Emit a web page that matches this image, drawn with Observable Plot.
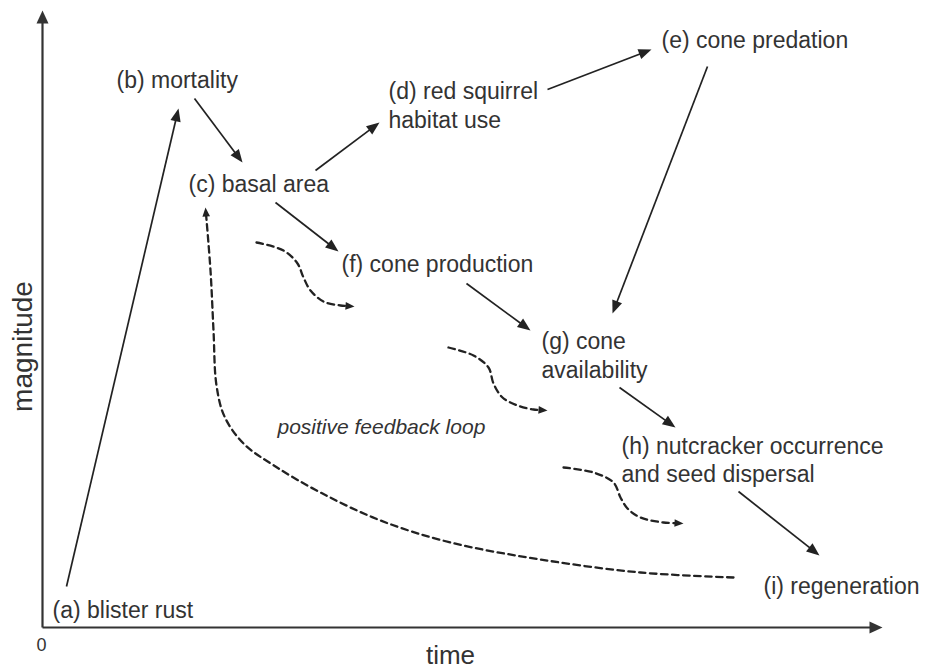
<!DOCTYPE html>
<html><head><meta charset="utf-8">
<script src="https://cdn.jsdelivr.net/npm/d3@7"></script>
<script src="https://cdn.jsdelivr.net/npm/@observablehq/plot@0.6"></script>
<style>body{margin:0;background:#fff}</style>
</head><body><div id="chart"></div>
<script>
// Node labels (time, magnitude in arbitrary units)
const labels = ["(a) blister rust","(b) mortality","(c) basal area","(d) red squirrel\nhabitat use","(e) cone predation","(f) cone production","(g) cone\navailability","(h) nutcracker occurrence\nand seed dispersal","(i) regeneration"];
const labelTime = [10, 74, 146, 346, 619, 299, 499, 579, 721];
const labelMagnitude = [18, 548, 444, 523, 588, 364, 273, 168.5, 42];

// Solid causal arrows: start and tip [time, magnitude]
const arrowFrom = [[24,41],[152,529],[273,457],[505,538],[665,561],[233,425],[424,344],[577,240],[696,136]];
const arrowTo   = [[136,519],[200,465],[337,505],[609,578],[570,314],[296,376],[488,297],[633,200],[777,72]];

// Dashed wavy arrows and feedback loop [time, magnitude]
const wave1 = [[214,385],[241,377],[255,364],[261,350],[268,337],[281,326],[298,322],[312,321]];
const wave2 = [[406,280],[431,272],[446,260],[451,244],[460,230],[475,222],[491,218],[505,217]];
const wave3 = [[521,160],[551,155],[571,145],[578,130],[585,119],[598,110],[621,105],[641,104]];
const feedbackLoop = [[691,50],[598,55],[498,68],[408,85],[338,107],[278,135],[233,161],[201,184],[182,211],[174,242],[171,297],[168,357],[163,420]];

// Axes
const timeMax = 840, magnitudeMax = 617;
const axisFrom = [[0,0],[0,0]];
const axisTo = [[timeMax,0],[0,magnitudeMax]];

const feedbackText = "positive feedback loop";

// ---- derived tables ----
function shorten(from, to, d) {
  const dx = to[0]-from[0], dy = to[1]-from[1], L = Math.hypot(dx, dy);
  return [to[0]-dx/L*d, to[1]-dy/L*d];
}
function rot(from, to) { return Math.atan2(to[0]-from[0], to[1]-from[1]) * 180 / Math.PI; }

function segTable(froms, tos, head) {
  return froms.map((f, i) => {
    const e = shorten(f, tos[i], head - 2);
    return {x1: f[0], y1: f[1], x2: e[0], y2: e[1], tx: tos[i][0], ty: tos[i][1], r: rot(f, tos[i])};
  });
}
const solid = segTable(arrowFrom, arrowTo, 13);
const axes = segTable(axisFrom, axisTo, 13);

const dashed = [wave1, wave2, wave3, feedbackLoop];
const dashedLines = [], dashedHeads = [];
dashed.forEach((pts, k) => {
  const n = pts.length, tip = pts[n-1], prev = pts[n-2];
  const e = shorten(prev, tip, 6);
  pts.slice(0, n-1).concat([e]).forEach(p => dashedLines.push({t: p[0], m: p[1], id: k}));
  dashedHeads.push({tx: tip[0], ty: tip[1], r: rot(prev, tip)});
});

const nodes = labels.map((l, i) => ({label: l, t: labelTime[i], m: labelMagnitude[i]}));

const ink = "#222", txt = "#333";
const font = "Liberation Sans, Arial, Helvetica, sans-serif";

const chart = Plot.plot({
  width: 925, height: 671,
  marginLeft: 42, marginRight: 43, marginTop: 10, marginBottom: 44,
  x: {domain: [0, timeMax], axis: null},
  y: {domain: [0, magnitudeMax], axis: null},
  style: {fontFamily: font, background: "#fff"},
  marks: [
    // axes
    Plot.link(axes, {x1: "x1", y1: "y1", x2: "x2", y2: "y2", stroke: "#333", strokeWidth: 2.2}),
    Plot.vector(axes, {x: "tx", y: "ty", rotate: "r", length: 13, r: 6, shape: "spike", anchor: "end", fill: "#333", stroke: "none"}),
    // solid arrows
    Plot.link(solid, {x1: "x1", y1: "y1", x2: "x2", y2: "y2", stroke: ink, strokeWidth: 1.7}),
    Plot.vector(solid, {x: "tx", y: "ty", rotate: "r", length: 13, r: 5.2, shape: "spike", anchor: "end", fill: ink, stroke: "none"}),
    // dashed curves
    Plot.line(dashedLines, {x: "t", y: "m", z: "id", curve: "catmull-rom", stroke: ink, strokeWidth: 2.3, strokeDasharray: "6.5,4.5"}),
    Plot.vector(dashedHeads, {x: "tx", y: "ty", rotate: "r", length: 9, r: 3.8, shape: "spike", anchor: "end", fill: ink, stroke: "none"}),
    // node labels
    Plot.text(nodes, {x: "t", y: "m", text: "label", textAnchor: "start", lineAnchor: "middle", lineHeight: 1.22, fontSize: 23, fill: txt}),
    Plot.text([feedbackText], {x: 235, y: 200, text: d => d, textAnchor: "start", lineAnchor: "middle", fontSize: 21, fontStyle: "italic", fill: txt}),
    // axis labels
    Plot.text(["0"], {x: -1, y: -18, text: d => d, fontSize: 18, fill: txt, lineAnchor: "middle"}),
    Plot.text(["time"], {x: 408, y: -28, text: d => d, fontSize: 26, fill: txt, lineAnchor: "middle"}),
    Plot.text(["magnitude"], {x: -19, y: 281, text: d => d, fontSize: 28, fill: txt, rotate: -90, lineAnchor: "middle"})
  ]
});
document.getElementById("chart").appendChild(chart);
</script>
</body></html>
